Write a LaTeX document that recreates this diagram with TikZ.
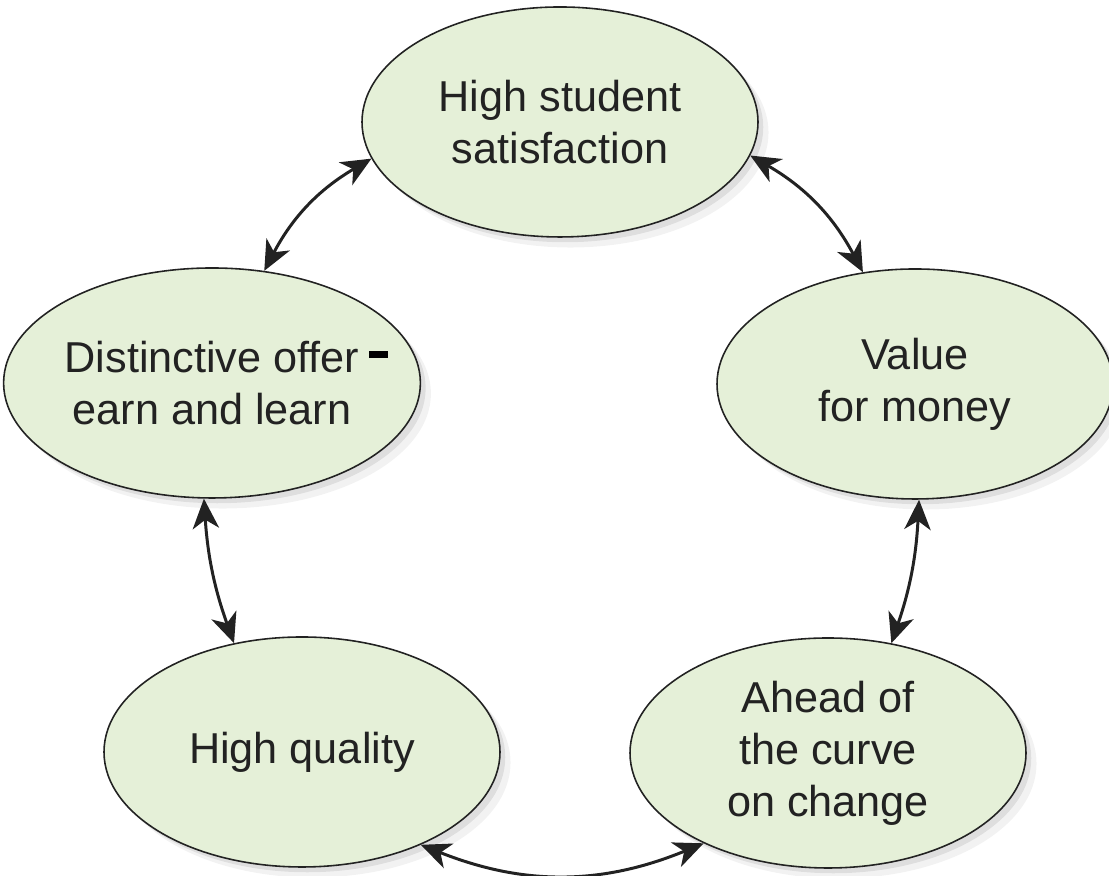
\documentclass[tikz,border=0pt]{standalone}
\usepackage{fontspec}
\setmainfont{Liberation Sans}
\usepackage{xcolor}
\usetikzlibrary{arrows.meta,shapes.geometric,shadows}
\definecolor{goalfill}{RGB}{229,240,216}
\definecolor{inkgray}{RGB}{34,34,34}

\begin{document}
\begin{tikzpicture}[line cap=round,line join=round,>={Stealth[length=8.5pt,width=7.5pt,inset=2.5pt]},x=1.0cm,y=1.0cm,
  goal/.style={ellipse,draw=inkgray,line width=0.45pt,fill=goalfill,minimum width=3.96cm,minimum height=2.30cm,
    inner sep=0pt,align=center,text=inkgray,font=\fontsize{12.3}{14.8}\selectfont,
    drop shadow={shadow xshift=3pt,shadow yshift=-3pt,opacity=0.10},
    drop shadow={shadow xshift=1.5pt,shadow yshift=-1.5pt,opacity=0.18}},
  link/.style={<->,draw=inkgray,line width=0.85pt}]
\useasboundingbox (0,0) rectangle (11.09,8.76);
% the five goals
\node[goal] (sat) at (5.60,7.54) {High student\\satisfaction};
\node[goal] (value) at (9.15,4.92) {Value\\for money};
\node[goal] (ahead) at (8.28,1.23) {Ahead of\\the curve\\on change};
\node[goal] (quality) at (3.02,1.24) {High quality};
\node[goal] (dist) at (2.12,4.93) {Distinctive offer\rlap{\hspace{0.1cm}\textcolor{black}{\rule[0.14cm]{0.19cm}{0.07cm}}}\\earn and learn};
% links round the cycle
\draw[link] (sat.350) to[bend left=16] (value.115);
\draw[link] (value.272) to[bend left=8] (ahead.60);
\draw[link] (ahead.216) to[bend left=22] (quality.322);
\draw[link] (quality.122) to[bend left=8] (dist.266);
\draw[link] (dist.65) to[bend left=16] (sat.191);
\end{tikzpicture}
\end{document}
